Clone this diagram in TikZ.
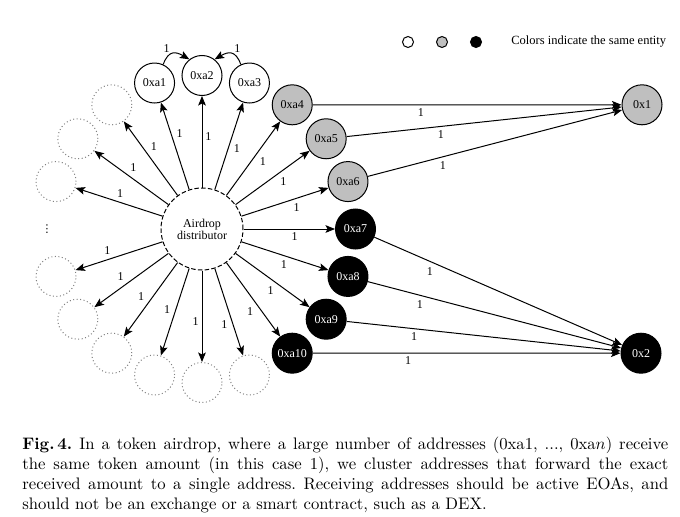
\documentclass[tikz,border=0pt]{standalone}
\usepackage{fontspec}
\newfontfamily\tnr{Liberation Serif}
\newfontfamily\dejavu{DejaVu Sans}
\usetikzlibrary{arrows.meta,calc}
\begin{document}
\begin{tikzpicture}[x=0.6pt,y=0.6pt,
  every node/.style={font=\tnr\fontsize{7.2}{7.4}\selectfont},
  addr/.style={circle,draw,line width=0.6pt,minimum size=24pt,inner sep=0pt},
  wnode/.style={addr,fill=white},
  gnode/.style={addr,fill=gray!50},
  bnode/.style={addr,fill=black,text=white},
  ghost/.style={circle,draw=gray,line width=0.6pt,dash pattern=on 0.6pt off 1.5pt,minimum size=24pt,inner sep=0pt},
  legdot/.style={circle,draw,line width=0.6pt,minimum size=6.6pt,inner sep=0pt},
  arr/.style={line width=0.6pt,-{Stealth[length=5.7pt,width=4.6pt,inset=1.2pt]}},
  lbl/.style={auto,swap,inner sep=1.7pt},
]
\useasboundingbox (0,0) rectangle (680,516);
\coordinate (C) at (202,287);
\node[circle,draw,line width=0.6pt,dash pattern=on 2.7pt off 1.35pt,minimum size=49.2pt,inner sep=0pt,align=center,font=\tnr\fontsize{7.2}{7.3}\selectfont] (D) at (C) {Airdrop\\distributor};
% ring nodes
\node[wnode] (a1) at ($(C)+(108:153.5)$) {0xa1};
\node[wnode] (a2) at ($(C)+(90:153.5)$) {0xa2};
\node[wnode] (a3) at ($(C)+(72:153.5)$) {0xa3};
\node[gnode] (a4) at ($(C)+(54:153.5)$) {0xa4};
\node[gnode] (a5) at ($(C)+(36:153.5)$) {0xa5};
\node[gnode] (a6) at ($(C)+(18:153.5)$) {0xa6};
\node[bnode] (a7) at ($(C)+(0:153.5)$) {0xa7};
\node[bnode] (a8) at ($(C)+(-18:153.5)$) {0xa8};
\node[bnode] (a9) at ($(C)+(-36:153.5)$) {0xa9};
\node[bnode] (a10) at ($(C)+(-54:153.5)$) {0xa10};
% ghost nodes
\node[ghost] (g1) at ($(C)+(126:153.5)$) {};
\node[ghost] (g2) at ($(C)+(144:153.5)$) {};
\node[ghost] (g3) at ($(C)+(162:153.5)$) {};
\node[ghost] (g4) at ($(C)+(198:153.5)$) {};
\node[ghost] (g5) at ($(C)+(216:153.5)$) {};
\node[ghost] (g6) at ($(C)+(234:153.5)$) {};
\node[ghost] (g7) at ($(C)+(252:153.5)$) {};
\node[ghost] (g8) at ($(C)+(270:153.5)$) {};
\node[ghost] (g9) at ($(C)+(288:153.5)$) {};
\node[font=\dejavu\fontsize{6.5}{6.5}\selectfont] (vd) at (47,287) {⋮};
% targets
\node[gnode] (x1) at (642,411.2) {0x1};
\node[bnode] (x2) at (641,162.8) {0x2};
% distributor arrows
\foreach \t in {a1,a2,a3,a4,a5,a6,a7,a8,a9,a10,g1,g2,g3,g4,g5,g6,g7,g8,g9}{
  \draw[arr] (D) -- node[lbl,pos=0.56]{1} (\t);
}
% curved arrows
\draw[arr] (a1.65) to[out=70,in=150,looseness=1.5] node[pos=0.2,above=3pt,inner sep=0pt]{1} (a2.128);
\draw[arr] (a3.115) to[out=110,in=30,looseness=1.5] node[pos=0.2,above=3pt,inner sep=0pt]{1} (a2.52);
% forwarding arrows
\draw[arr] (a4) -- node[lbl,pos=0.35]{1} (x1);
\draw[arr] (a5) -- node[lbl,pos=0.32]{1} (x1);
\draw[arr] (a6) -- node[lbl,pos=0.27]{1} (x1);
\draw[arr] (a7) -- node[lbl,pos=0.25]{1} (x2);
\draw[arr] (a8) -- node[lbl,pos=0.23]{1} (x2);
\draw[arr] (a9) -- node[lbl,pos=0.27]{1} (x2);
\draw[arr] (a10) -- node[lbl,pos=0.31]{1} (x2);
% legend
\node[legdot,fill=white] (l1) at (408,474) {};
\node[legdot,fill=gray!50] (l2) at (442,474) {};
\node[legdot,fill=black] (l3) at (476,474) {};
\node[anchor=west,inner sep=0pt,font=\tnr\fontsize{7.5}{7.7}\selectfont] (lt) at (511,474) {Colors indicate the same entity};
% caption
\node[anchor=north west,inner sep=0pt,text width=387.6pt,align=justify,font=\rmfamily\fontsize{10}{12}\selectfont\frenchspacing] (cap) at (22,79)
{\textbf{Fig.\,4.} In a token airdrop, where a large number of addresses (0xa1, ..., 0xa$n$) receive\linebreak
the same token amount (in this case 1), we cluster addresses that forward the exact\linebreak
received amount to a single address. Receiving addresses should be active EOAs, and\linebreak
should not be an exchange or a smart contract, such as a DEX.};
\end{tikzpicture}
\end{document}
